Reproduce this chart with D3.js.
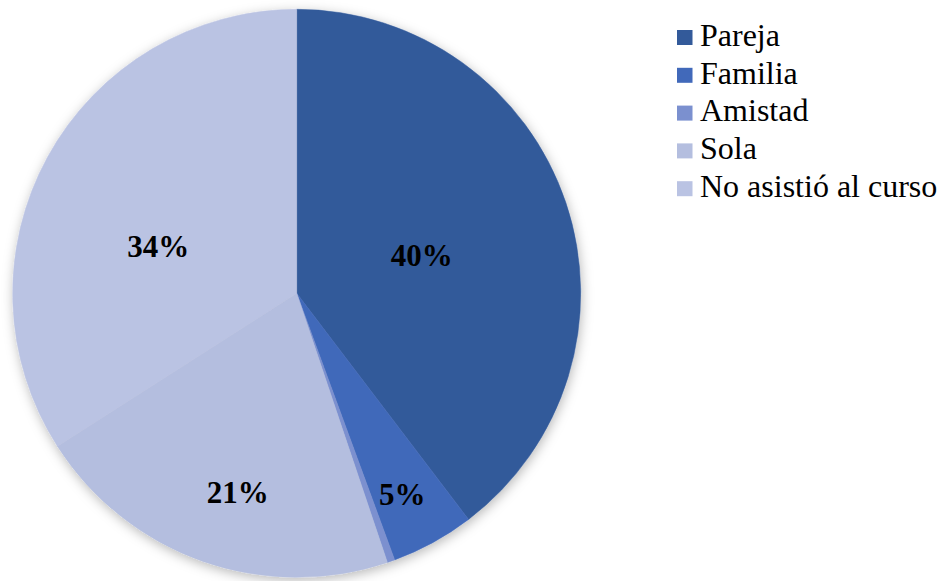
<!DOCTYPE html>
<html>
<head>
<meta charset="utf-8">
<script src="https://cdn.jsdelivr.net/npm/d3@7/dist/d3.min.js"></script>
<style>
  html, body { margin: 0; padding: 0; background: #ffffff; }
  svg { display: block; }
  text { font-family: "Liberation Serif", "Times New Roman", serif; }
</style>
</head>
<body>
<svg id="chart" width="950" height="581"></svg>
<script>
// ---- data ----
const categories = ["Pareja", "Familia", "Amistad", "Sola", "No asistió al curso"];
const counts = [92, 11, 1, 49, 79];
const colors = ["#335A9A", "#4169BA", "#7B90CF", "#B4BEDF", "#BAC3E3"];

// ---- layout (styling only) ----
const cx = 296.7, cy = 293.3, R = 284;
// label placement: radius fraction, angle nudge (deg) from slice mid-angle
const labelRadius = [0.46, 0.80, 0.5, 0.73, 0.515];
const labelNudge  = [2, 1, 0, -2.9, -10];

const svg = d3.select("#chart");
const defs = svg.append("defs");
const f = defs.append("filter").attr("id", "shadow")
  .attr("x", "-10%").attr("y", "-10%").attr("width", "120%").attr("height", "120%");
f.append("feDropShadow").attr("dx", 1).attr("dy", 3).attr("stdDeviation", 6)
  .attr("flood-color", "#000").attr("flood-opacity", 0.28);

const total = d3.sum(counts);
const pie = d3.pie().sort(null).value(d => d)
  .startAngle(0).endAngle(2 * Math.PI);
const arcs = pie(counts);
const arc = d3.arc().innerRadius(0).outerRadius(R);

const g = svg.append("g").attr("transform", `translate(${cx},${cy})`);
const slices = g.append("g").attr("filter", "url(#shadow)");
slices.selectAll("path").data(arcs).join("path")
  .attr("d", arc)
  .attr("fill", (d, i) => colors[i])
  .attr("stroke", (d, i) => colors[i])
  .attr("stroke-width", 0.5);

const fmt = v => Math.round(v / total * 100) + "%";
g.selectAll("text.lbl").data(arcs.filter(d => d.value / total >= 0.01)).join("text")
  .attr("class", "lbl")
  .each(function(d) {
    const i = d.index;
    const a = (d.startAngle + d.endAngle) / 2 + labelNudge[i] * Math.PI / 180;
    const r = labelRadius[i] * R;
    d3.select(this)
      .attr("x", Math.sin(a) * r)
      .attr("y", -Math.cos(a) * r)
      .text(fmt(d.value));
  })
  .attr("text-anchor", "middle")
  .attr("dominant-baseline", "central")
  .attr("font-weight", "bold")
  .attr("font-size", 31)
  .attr("fill", "#000");

// ---- legend ----
const legend = svg.append("g").attr("transform", "translate(677,37.5)");
const rows = legend.selectAll("g").data(categories).join("g")
  .attr("transform", (d, i) => `translate(0,${i * 37.8})`);
rows.append("rect")
  .attr("x", 0).attr("y", -7.5).attr("width", 15.5).attr("height", 15)
  .attr("fill", (d, i) => colors[i]);
rows.append("text")
  .attr("x", 23).attr("y", 8.2)
  .attr("font-size", 32)
  .attr("fill", "#000")
  .text(d => d);
</script>
</body>
</html>
